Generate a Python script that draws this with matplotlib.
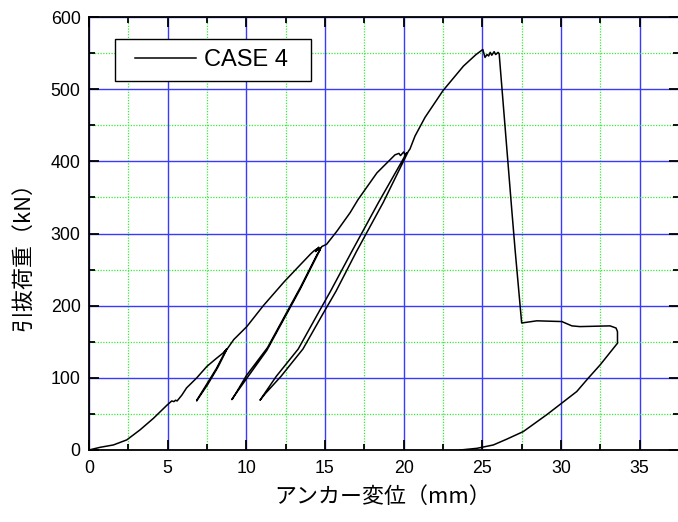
import matplotlib
matplotlib.use("Agg")
import matplotlib.pyplot as plt
from matplotlib.ticker import MultipleLocator
from matplotlib.legend_handler import HandlerLine2D
from matplotlib.lines import Line2D

# ---- data (displacement mm, load kN) ----
env1_x = [0, 0.7, 1.55, 2.4, 3.25, 4.1, 4.95, 5.26, 5.4, 5.5, 5.6, 5.9, 6.2, 6.85, 7.5, 8.1, 8.5, 8.7, 8.6, 8.75, 8.65, 8.72]
env1_y = [0, 3.7, 7, 14, 28, 44, 62, 68, 67, 69, 68, 76, 86, 100, 116, 127, 134, 138, 136, 140, 137, 139]
unl1_x = [8.7, 8.1, 7.45, 6.85]
unl1_y = [138, 113, 90, 69]
rel1_x = [6.85, 6.9, 7.55, 8.2, 8.75]
rel1_y = [68, 70, 91, 115, 139]
env2_x = [9.2, 10.03, 11.08, 12.4, 13.4, 14.1, 14.3, 14.5, 14.4, 14.6, 14.5, 14.7, 14.65, 14.7]
env2_y = [153, 171, 200, 233, 256, 272, 276, 279, 275, 281, 277, 280, 276, 278]
unl2_x = [13.4, 12.55, 11.3, 10.05, 9.07]
unl2_y = [222, 188, 138, 100, 70]
rel2_x = [9.1, 10.0, 11.35, 12.6, 13.45, 14.5, 14.8]
rel2_y = [70, 103, 142, 192, 226, 271, 282]
env3_x = [15.1, 15.75, 16.6, 17.1, 18.3, 19.45, 19.7, 19.8, 20.0, 20.1, 20.2]
env3_y = [285, 303, 329, 347, 384, 409, 411, 408, 413, 409, 412]
unl3_x = [18.4, 16.7, 15.35, 14.5, 13.3, 11.9, 10.87]
unl3_y = [343, 275, 220, 187, 140, 102, 69]
rel3_x = [11.2, 12.2, 13.6, 14.85, 15.7, 17.0, 18.7, 20.3]
rel3_y = [78, 102, 140, 188, 220, 275, 343, 414]
env4_x = [20.4, 20.72, 21.36, 22.5, 23.8, 24.6, 25.03, 25.17, 25.3, 25.4, 25.5, 25.6, 25.75, 25.85, 26.0, 26.07]
env4_y = [417, 435, 461, 498, 532, 548, 555, 544, 548, 546, 551, 547, 552, 548, 551, 549]
drop_x = [26.87, 27.08, 27.5]
drop_y = [333, 278, 176]
res_x = [28.46, 30.05, 30.69, 31.2, 33.12, 33.5, 33.59, 33.59]
res_y = [179, 178, 172, 171, 172, 169, 164, 148]
fin_x = [32.49, 31.75, 31.0, 30.05, 29.1, 27.6, 26.55, 25.7, 24.65, 23.59]
fin_y = [118, 100, 81, 65, 49, 25.5, 15, 7, 2.3, 0]

segs_x = [env1_x, unl1_x, rel1_x, env2_x, unl2_x, rel2_x, env3_x, unl3_x, rel3_x, env4_x, drop_x, res_x, fin_x]
segs_y = [env1_y, unl1_y, rel1_y, env2_y, unl2_y, rel2_y, env3_y, unl3_y, rel3_y, env4_y, drop_y, res_y, fin_y]
disp = [v for s in segs_x for v in s]
load = [v for s in segs_y for v in s]

series_label = "CASE 4"
x_label = "アンカー変位（mm）"
y_label = "引抜荷重（kN）"

fig = plt.figure(figsize=(6.78, 5.22), dpi=100)
ax = fig.add_axes([89/678, 72/522, 590/678, 433/522])

line, = ax.plot(disp, load, color="black", lw=1.1, label=series_label, zorder=3)

ax.set_xlim(0, 37.5)
ax.set_ylim(0, 600)
ax.xaxis.set_major_locator(MultipleLocator(5))
ax.xaxis.set_minor_locator(MultipleLocator(2.5))
ax.yaxis.set_major_locator(MultipleLocator(100))
ax.yaxis.set_minor_locator(MultipleLocator(50))

ax.grid(which="major", color="#3a3aff", lw=1.0, ls="-", zorder=1)
ax.grid(which="minor", color="#33ee33", lw=0.9, ls=(0, (1, 1.2)), zorder=1)
ax.set_axisbelow(True)

for sp in ax.spines.values():
    sp.set_linewidth(1.3)
    sp.set_color("black")

ax.tick_params(which="both", direction="in", top=True, right=True, colors="black", width=1.3)
ax.tick_params(which="major", length=7)
ax.tick_params(which="minor", length=4)
ax.tick_params(axis="x", which="major", pad=7, labelsize=12.8)
ax.tick_params(axis="y", which="major", pad=6, labelsize=12.8)
for lab in ax.get_xticklabels() + ax.get_yticklabels():
    lab.set_fontfamily("Liberation Sans")

ax.set_xlabel(x_label, fontsize=15.8, family=["Noto Sans CJK JP", "DejaVu Sans"])
ax.set_ylabel(y_label, fontsize=15.8, family=["Noto Sans CJK JP", "DejaVu Sans"])
ax.xaxis.set_label_coords(0.497, -0.083)
ax.yaxis.set_label_coords(-0.092, 0.46)

leg = ax.legend(handles=[line], labels=[series_label + "  "],
                loc="upper left", bbox_to_anchor=((115-89)/590, (450-39)/433),
                frameon=True, fancybox=False, framealpha=1, edgecolor="black",
                prop={"family": "Liberation Sans", "size": 17},
                handler_map={Line2D: HandlerLine2D(xpad=0.42)},
                handlelength=3.0, handletextpad=0.34, borderpad=0.42, borderaxespad=0)
leg.get_frame().set_linewidth(1.0)
leg.set_zorder(5)

fig.savefig("out.png", dpi=100)
